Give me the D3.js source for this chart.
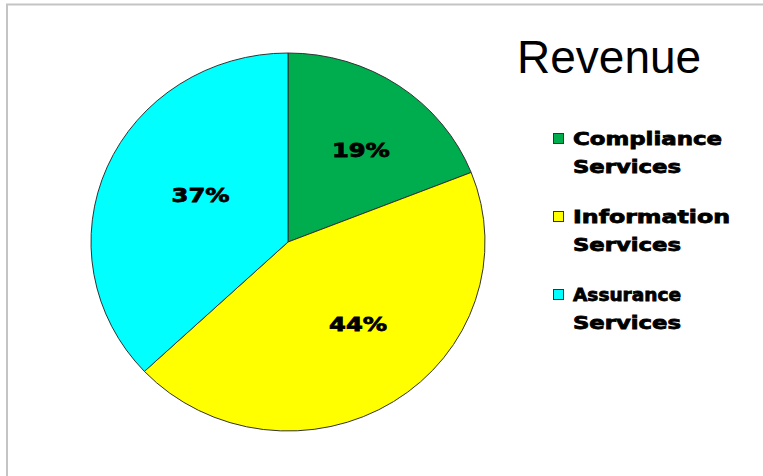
<!DOCTYPE html>
<html>
<head>
<meta charset="utf-8">
<script src="https://cdn.jsdelivr.net/npm/d3@7"></script>
<style>
  html, body { margin: 0; padding: 0; background: #fff; }
  svg { display: block; }
</style>
</head>
<body>
<svg id="chart" width="763" height="476"></svg>
<script>
// Revenue split by service line (percent of total)
const categories = ["Compliance Services", "Information Services", "Assurance Services"];
const legendLines = [["Compliance", "Services"], ["Information", "Services"], ["Assurance", "Services"]];
const values = [19, 44, 37];
const colors = ["#00AD4E", "#FFFF00", "#00FFFF"];

const svg = d3.select("#chart");

// frame
svg.append("line").attr("x1", 6).attr("x2", 763).attr("y1", 4.5).attr("y2", 4.5)
  .attr("stroke", "#c4c4c4").attr("stroke-width", 2);
svg.append("line").attr("x1", 7).attr("x2", 7).attr("y1", 4).attr("y2", 476)
  .attr("stroke", "#c4c4c4").attr("stroke-width", 2);

// pie
const cx = 288, cy = 242, rx = 197, ry = 189;
const pie = d3.pie().sort(null).value(d => d)(values);
const arc = d3.arc().innerRadius(0).outerRadius(rx);

const g = svg.append("g").attr("transform", `translate(${cx},${cy}) scale(1,${ry / rx})`);
g.selectAll("path").data(pie).join("path")
  .attr("d", arc)
  .attr("fill", (d, i) => colors[i])
  .attr("stroke", "#333")
  .attr("stroke-width", 1)
  .attr("vector-effect", "non-scaling-stroke");

// percentage labels
const labelArc = d3.arc().innerRadius(rx * 0.55).outerRadius(rx * 0.55);
svg.append("g").selectAll("text").data(pie).join("text")
  .attr("x", d => cx + labelArc.centroid(d)[0] + 12)
  .attr("y", d => cy + labelArc.centroid(d)[1] * ry / rx - 6)
  .attr("dy", "0.36em")
  .attr("text-anchor", "middle")
  .attr("font-family", "DejaVu Sans, Verdana, sans-serif")
  .attr("font-weight", "bold")
  .attr("font-size", 20)
  .attr("textLength", 58)
  .attr("lengthAdjust", "spacingAndGlyphs")
  .attr("fill", "#000")
  .attr("stroke", "#000")
  .attr("stroke-width", 0.8)
  .text(d => d.data + "%");

// title
svg.append("text")
  .attr("x", 517).attr("y", 73)
  .attr("font-family", "Liberation Sans, Arial, sans-serif")
  .attr("font-size", 46)
  .attr("fill", "#000")
  .text("Revenue");

// legend
const legend = svg.append("g");
const items = legend.selectAll("g").data(categories).join("g")
  .attr("transform", (d, i) => `translate(553,${133 + i * 78})`);
items.append("rect")
  .attr("x", 0.5).attr("y", 0.5).attr("width", 10).attr("height", 10)
  .attr("fill", (d, i) => colors[i])
  .attr("stroke", "#333").attr("stroke-width", 1);
items.each(function (d, i) {
  const sel = d3.select(this);
  legendLines[i].forEach((line, j) => {
    const w = line.length >= 10 ? (line === "Compliance" ? 149 : line === "Information" ? 157 : 132) : 108;
    sel.append("text")
      .attr("x", 20).attr("y", 12 + j * 27.5)
      .attr("font-family", "DejaVu Sans, Verdana, sans-serif")
      .attr("font-weight", "bold")
      .attr("font-size", 18)
      .attr("textLength", w)
      .attr("lengthAdjust", "spacingAndGlyphs")
      .attr("fill", "#000")
      .attr("stroke", "#000")
      .attr("stroke-width", 0.8)
      .text(line);
  });
});
</script>
</body>
</html>
